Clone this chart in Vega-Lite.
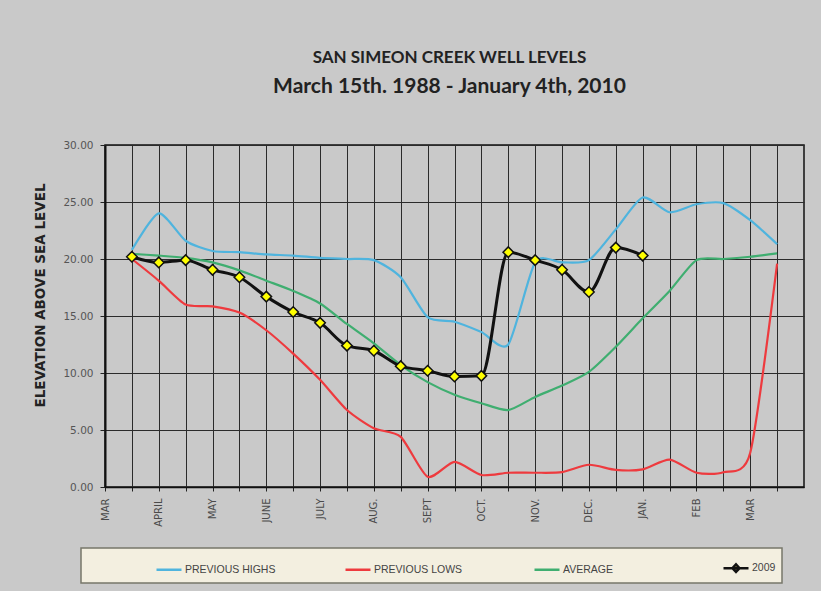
{
  "$schema": "https://vega.github.io/schema/vega-lite/v6.json",
  "width": 699,
  "height": 342,
  "autosize": {"type": "none"},
  "padding": {"left": 105, "top": 145, "right": 17, "bottom": 104},
  "background": "#c9c9c9",
  "config": {
    "view": {"stroke": "#111", "strokeWidth": 1.5, "fill": "#c9c9c9"},
    "font": "Liberation Sans"
  },
  "title": {
    "text": "SAN SIMEON CREEK WELL LEVELS",
    "subtitle": "March 15th. 1988 - January 4th, 2010",
    "font": "Lato",
    "fontSize": 17,
    "fontWeight": "bold",
    "color": "#222",
    "subtitleFont": "Lato",
    "subtitleFontSize": 21,
    "subtitleFontWeight": "bold",
    "subtitleColor": "#222",
    "subtitlePadding": 9,
    "anchor": "middle",
    "dx": -5,
    "offset": 42
  },
  "data": {
    "values": [
      {"series": "PREVIOUS HIGHS", "x": 1, "y": 20.8},
      {"series": "PREVIOUS HIGHS", "x": 2, "y": 24.0},
      {"series": "PREVIOUS HIGHS", "x": 3, "y": 21.6},
      {"series": "PREVIOUS HIGHS", "x": 4, "y": 20.7},
      {"series": "PREVIOUS HIGHS", "x": 5, "y": 20.6},
      {"series": "PREVIOUS HIGHS", "x": 6, "y": 20.4},
      {"series": "PREVIOUS HIGHS", "x": 7, "y": 20.3},
      {"series": "PREVIOUS HIGHS", "x": 8, "y": 20.1},
      {"series": "PREVIOUS HIGHS", "x": 9, "y": 20.0},
      {"series": "PREVIOUS HIGHS", "x": 10, "y": 19.9},
      {"series": "PREVIOUS HIGHS", "x": 11, "y": 18.4},
      {"series": "PREVIOUS HIGHS", "x": 12, "y": 14.9},
      {"series": "PREVIOUS HIGHS", "x": 13, "y": 14.5},
      {"series": "PREVIOUS HIGHS", "x": 14, "y": 13.6},
      {"series": "PREVIOUS HIGHS", "x": 15, "y": 12.5},
      {"series": "PREVIOUS HIGHS", "x": 16, "y": 19.7},
      {"series": "PREVIOUS HIGHS", "x": 17, "y": 19.7},
      {"series": "PREVIOUS HIGHS", "x": 18, "y": 19.9},
      {"series": "PREVIOUS HIGHS", "x": 19, "y": 22.6},
      {"series": "PREVIOUS HIGHS", "x": 20, "y": 25.4},
      {"series": "PREVIOUS HIGHS", "x": 21, "y": 24.1},
      {"series": "PREVIOUS HIGHS", "x": 22, "y": 24.8},
      {"series": "PREVIOUS HIGHS", "x": 23, "y": 24.9},
      {"series": "PREVIOUS HIGHS", "x": 24, "y": 23.4},
      {"series": "PREVIOUS HIGHS", "x": 25, "y": 21.3},
      {"series": "PREVIOUS LOWS", "x": 1, "y": 20.0},
      {"series": "PREVIOUS LOWS", "x": 2, "y": 18.1},
      {"series": "PREVIOUS LOWS", "x": 3, "y": 16.0},
      {"series": "PREVIOUS LOWS", "x": 4, "y": 15.85},
      {"series": "PREVIOUS LOWS", "x": 5, "y": 15.3},
      {"series": "PREVIOUS LOWS", "x": 6, "y": 13.75},
      {"series": "PREVIOUS LOWS", "x": 7, "y": 11.7},
      {"series": "PREVIOUS LOWS", "x": 8, "y": 9.4},
      {"series": "PREVIOUS LOWS", "x": 9, "y": 6.75},
      {"series": "PREVIOUS LOWS", "x": 10, "y": 5.15},
      {"series": "PREVIOUS LOWS", "x": 11, "y": 4.4},
      {"series": "PREVIOUS LOWS", "x": 12, "y": 0.9},
      {"series": "PREVIOUS LOWS", "x": 13, "y": 2.2},
      {"series": "PREVIOUS LOWS", "x": 14, "y": 1.05},
      {"series": "PREVIOUS LOWS", "x": 15, "y": 1.25},
      {"series": "PREVIOUS LOWS", "x": 16, "y": 1.25},
      {"series": "PREVIOUS LOWS", "x": 17, "y": 1.3},
      {"series": "PREVIOUS LOWS", "x": 18, "y": 1.95},
      {"series": "PREVIOUS LOWS", "x": 19, "y": 1.5},
      {"series": "PREVIOUS LOWS", "x": 20, "y": 1.55},
      {"series": "PREVIOUS LOWS", "x": 21, "y": 2.4},
      {"series": "PREVIOUS LOWS", "x": 22, "y": 1.25},
      {"series": "PREVIOUS LOWS", "x": 23, "y": 1.3},
      {"series": "PREVIOUS LOWS", "x": 24, "y": 3.0},
      {"series": "PREVIOUS LOWS", "x": 25, "y": 19.6},
      {"series": "AVERAGE", "x": 1, "y": 20.45},
      {"series": "AVERAGE", "x": 2, "y": 20.3},
      {"series": "AVERAGE", "x": 3, "y": 20.1},
      {"series": "AVERAGE", "x": 4, "y": 19.7},
      {"series": "AVERAGE", "x": 5, "y": 19.0},
      {"series": "AVERAGE", "x": 6, "y": 18.1},
      {"series": "AVERAGE", "x": 7, "y": 17.2},
      {"series": "AVERAGE", "x": 8, "y": 16.1},
      {"series": "AVERAGE", "x": 9, "y": 14.3},
      {"series": "AVERAGE", "x": 10, "y": 12.6},
      {"series": "AVERAGE", "x": 11, "y": 10.7},
      {"series": "AVERAGE", "x": 12, "y": 9.2},
      {"series": "AVERAGE", "x": 13, "y": 8.1},
      {"series": "AVERAGE", "x": 14, "y": 7.35},
      {"series": "AVERAGE", "x": 15, "y": 6.75},
      {"series": "AVERAGE", "x": 16, "y": 7.9},
      {"series": "AVERAGE", "x": 17, "y": 8.9},
      {"series": "AVERAGE", "x": 18, "y": 10.1},
      {"series": "AVERAGE", "x": 19, "y": 12.3},
      {"series": "AVERAGE", "x": 20, "y": 14.8},
      {"series": "AVERAGE", "x": 21, "y": 17.2},
      {"series": "AVERAGE", "x": 22, "y": 19.9},
      {"series": "AVERAGE", "x": 23, "y": 20.0},
      {"series": "AVERAGE", "x": 24, "y": 20.2},
      {"series": "AVERAGE", "x": 25, "y": 20.5},
      {"series": "2009", "x": 1, "y": 20.2},
      {"series": "2009", "x": 2, "y": 19.7},
      {"series": "2009", "x": 3, "y": 19.9},
      {"series": "2009", "x": 4, "y": 19.05},
      {"series": "2009", "x": 5, "y": 18.4},
      {"series": "2009", "x": 6, "y": 16.7},
      {"series": "2009", "x": 7, "y": 15.35},
      {"series": "2009", "x": 8, "y": 14.4},
      {"series": "2009", "x": 9, "y": 12.4},
      {"series": "2009", "x": 10, "y": 11.95},
      {"series": "2009", "x": 11, "y": 10.6},
      {"series": "2009", "x": 12, "y": 10.2},
      {"series": "2009", "x": 13, "y": 9.7},
      {"series": "2009", "x": 14, "y": 9.75},
      {"series": "2009", "x": 15, "y": 20.6},
      {"series": "2009", "x": 16, "y": 19.9},
      {"series": "2009", "x": 17, "y": 19.05},
      {"series": "2009", "x": 18, "y": 17.1},
      {"series": "2009", "x": 19, "y": 21.0},
      {"series": "2009", "x": 20, "y": 20.3}
    ]
  },
  "encoding": {
    "x": {
      "field": "x",
      "type": "quantitative",
      "scale": {"domain": [0, 26], "nice": false, "zero": false},
      "axis": {
        "title": null,
        "values": [0,1,2,3,4,5,6,7,8,9,10,11,12,13,14,15,16,17,18,19,20,21,22,23,24,25],
        "labelExpr": "['MAR','','APRIL','','MAY','','JUNE','','JULY','','AUG.','','SEPT','','OCT.','','NOV.','','DEC.','','JAN.','','FEB','','MAR',''][datum.value]",
        "grid": true,
        "gridColor": "#2b2b2b",
        "gridWidth": 1,
        "gridOpacity": 1,
        "domainColor": "#111",
        "domainWidth": 1.5,
        "tickColor": "#222",
        "tickSize": 4,
        "labelAngle": 270,
        "labelAlign": "right",
        "labelBaseline": "middle",
        "labelFont": "DejaVu Sans",
        "labelFontSize": 10,
        "labelColor": "#4a4a4a",
        "labelPadding": 7,
        "labelOverlap": false,
        "labelBound": false,
        "labelFlush": false
      }
    },
    "y": {
      "field": "y",
      "type": "quantitative",
      "scale": {"domain": [0, 30], "nice": false},
      "axis": {
        "title": "ELEVATION ABOVE SEA LEVEL",
        "titleFont": "DejaVu Sans",
        "titleFontWeight": "bold",
        "titleFontSize": 13.5,
        "titleColor": "#222",
        "titleX": -65,
        "titleY": 150,
        "titleAngle": 270,
        "titleAlign": "center",
        "titleBaseline": "middle",
        "values": [0, 5, 10, 15, 20, 25, 30],
        "format": ".2f",
        "grid": true,
        "gridColor": "#2b2b2b",
        "gridWidth": 1,
        "gridOpacity": 1,
        "domainColor": "#111",
        "domainWidth": 2,
        "tickColor": "#222",
        "tickSize": 5,
        "labelFont": "DejaVu Sans",
        "labelFontSize": 10.5,
        "labelColor": "#555",
        "labelPadding": 7
      }
    }
  },
  "layer": [
    {
      "data": {"values": [{"m": 8}, {"m": 21}]},
      "mark": {"type": "rule", "color": "#333", "strokeWidth": 3},
      "encoding": {"x": {"field": "m", "type": "quantitative"}}
    },
    {
      "transform": [{"filter": "datum.series != '2009'"}],
      "mark": {"type": "line", "interpolate": "cardinal", "tension": 0.3, "strokeWidth": 2.2},
      "encoding": {
        "color": {
          "field": "series",
          "type": "nominal",
          "scale": {
            "domain": ["PREVIOUS HIGHS", "PREVIOUS LOWS", "AVERAGE", "2009"],
            "range": ["#4fb4de", "#ee3a3e", "#3fae70", "#111111"]
          },
          "legend": {
            "title": " ",
            "titleOrient": "left",
            "titlePadding": 68,
            "orient": "none",
            "legendX": -24,
            "legendY": 403,
            "direction": "horizontal",
            "columns": 4,
            "gridAlign": "all",
            "columnPadding": 64,
            "symbolType": "stroke",
            "symbolSize": 625,
            "symbolStrokeWidth": 2.5,
            "labelOffset": 2,
            "labelFont": "Liberation Sans",
            "labelFontSize": 10.5,
            "labelColor": "#444",
            "padding": 6,
            "fillColor": "#f3efe0",
            "strokeColor": "#77776a",
            "encode": {
              "legend": {"update": {"strokeWidth": {"value": 1.5}}},
              "symbols": {
                "update": {
                  "shape": [
                    {"test": "datum.value === '2009'", "value": "M-1,0H1M-0.28,0L0,-0.3L0.28,0L0,0.3Z"},
                    {"value": "stroke"}
                  ],
                  "fill": [
                    {"test": "datum.value === '2009'", "value": "#d8d070"},
                    {"value": "transparent"}
                  ]
                }
              }
            }
          }
        }
      }
    },
    {
      "transform": [{"filter": "datum.series == '2009'"}],
      "mark": {"type": "line", "interpolate": "monotone", "strokeWidth": 3},
      "encoding": {"color": {"field": "series", "type": "nominal"}}
    },
    {
      "transform": [{"filter": "datum.series == '2009'"}],
      "mark": {"type": "point", "shape": "diamond", "filled": true, "fill": "#ffff00", "stroke": "#111", "strokeWidth": 1.5, "size": 110, "opacity": 1}
    }
  ]
}
